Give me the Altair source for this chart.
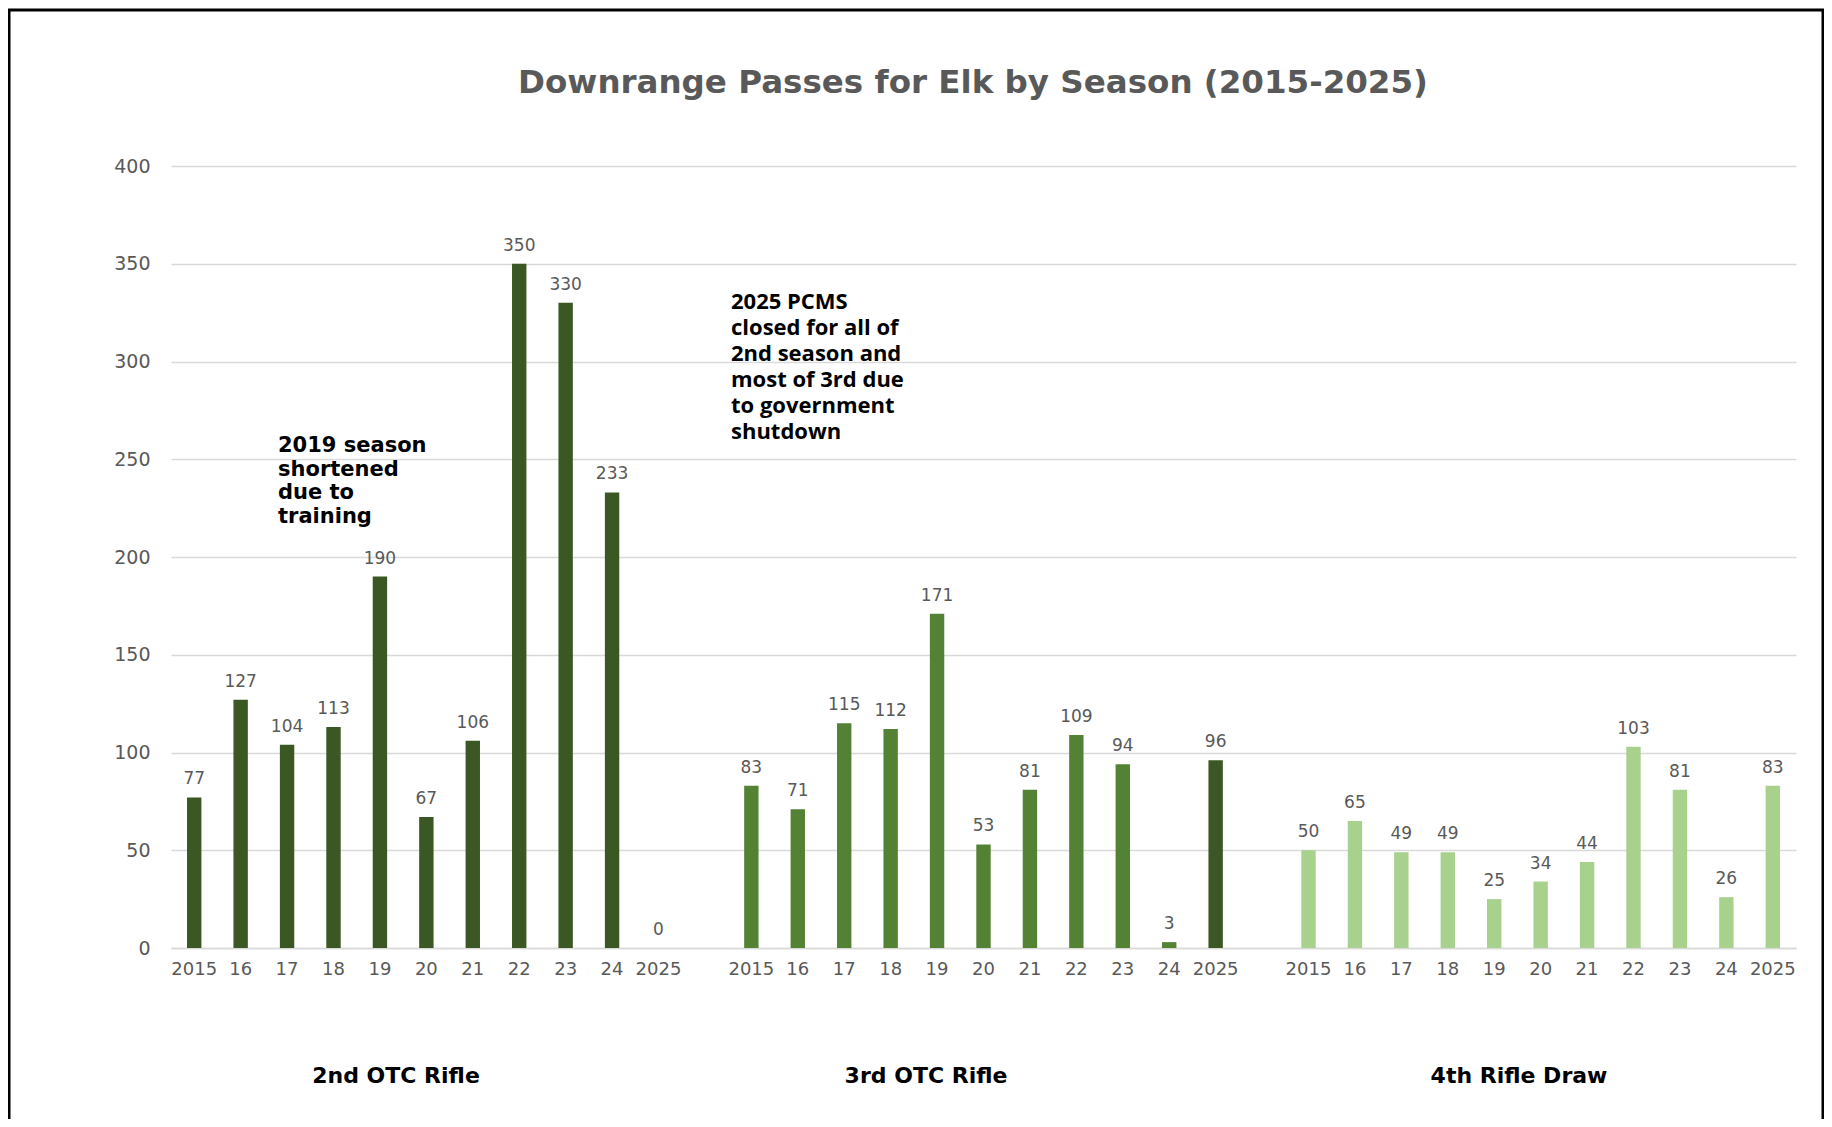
import altair as alt
import pandas as pd

# ---------------- data ----------------
groups = ["2nd OTC Rifle", "3rd OTC Rifle", "4th Rifle Draw"]
year_labels = ["2015", "16", "17", "18", "19", "20", "21", "22", "23", "24", "2025"]
values_2nd = [77, 127, 104, 113, 190, 67, 106, 350, 330, 233, 0]
values_3rd = [83, 71, 115, 112, 171, 53, 81, 109, 94, 3, 96]
values_4th = [50, 65, 49, 49, 25, 34, 44, 103, 81, 26, 83]

title_text = "Downrange Passes for Elk by Season (2015-2025)"
note_2019 = ["2019 season", "shortened", "due to", "training"]
note_2025 = ["2025 PCMS", "closed for all of", "2nd season and", "most of 3rd due",
             "to government", "shutdown"]

DARK = "#3B5723"
MID = "#548235"
LIGHT = "#A9D18E"
GREY = "#595959"

rows = []
domain = []
for gi, (g, vals) in enumerate(zip(groups, [values_2nd, values_3rd, values_4th])):
    if gi > 0:
        domain.append(f"gap{gi}")
    for y, v in zip(year_labels, vals):
        key = f"{gi + 1}|{y}"
        domain.append(key)
        rows.append({"group": g, "year": y, "key": key, "value": v})
df = pd.DataFrame(rows)

W, H = 1625, 782

x_enc = alt.X(
    "key:N",
    scale=alt.Scale(domain=domain, paddingInner=0.69, paddingOuter=0.345),
    axis=alt.Axis(
        title=None,
        labelAngle=0,
        labelExpr="indexof(datum.value, '|') >= 0 ? split(datum.value, '|')[1] : ''",
        labelFont="DejaVu Sans",
        labelFontSize=18,
        labelColor=GREY,
        labelPadding=12,
        labelOverlap=False,
        ticks=False,
        tickSize=0,
        domain=True,
        domainColor="#D9D9D9",
        domainWidth=1.5,
        grid=False,
    ),
)
y_enc = alt.Y(
    "value:Q",
    scale=alt.Scale(domain=[0, 400], nice=False),
    axis=alt.Axis(
        title=None,
        values=[0, 50, 100, 150, 200, 250, 300, 350, 400],
        labelFont="DejaVu Sans",
        labelFontSize=19,
        labelColor=GREY,
        labelPadding=21,
        ticks=False,
        tickSize=0,
        domain=False,
        grid=True,
        gridColor="#D9D9D9",
        gridWidth=1.5,
    ),
)

base = alt.Chart(df)

bars = base.mark_bar().encode(
    x=x_enc,
    y=y_enc,
    color=alt.condition(
        "datum.group == '3rd OTC Rifle' && datum.year == '2025'",
        alt.value(DARK),
        alt.Color("group:N", scale=alt.Scale(domain=groups, range=[DARK, MID, LIGHT]), legend=None),
    ),
)

labels = base.mark_text(
    font="DejaVu Sans", fontSize=17, color=GREY, baseline="bottom", dy=-9
).encode(x=alt.X("key:N"), y=alt.Y("value:Q"), text=alt.Text("value:Q"))

one = alt.Data(values=[{"a": 1}])

frame = alt.Chart(one).mark_rect(fill="transparent", stroke="black", strokeWidth=3).encode(
    x=alt.value(-162), x2=alt.value(1652), y=alt.value(-156), y2=alt.value(1000)
)

title = alt.Chart(one).mark_text(
    text=title_text, font="DejaVu Sans", fontWeight="bold", fontSize=32.5, color=GREY,
    align="center", baseline="middle",
).encode(x=alt.value(802), y=alt.value(-83))

ann1 = alt.Chart(one).mark_text(
    text=note_2019, font="DejaVu Sans", fontWeight="bold", fontSize=21, color="black",
    align="left", baseline="top", lineHeight=23.5,
).encode(x=alt.value(107), y=alt.value(269))

ann2 = alt.Chart(one).mark_text(
    text=note_2025, font="Open Sans", fontWeight="bold", fontSize=22, color="black",
    align="left", baseline="top", lineHeight=26,
).encode(x=alt.value(560), y=alt.value(126))

group_layers = []
for g, gx in zip(groups, [225, 755, 1348]):
    group_layers.append(
        alt.Chart(one).mark_text(
            text=g, font="DejaVu Sans", fontWeight="bold", fontSize=22, color="black",
            align="center", baseline="middle",
        ).encode(x=alt.value(gx), y=alt.value(910))
    )

chart = alt.layer(frame, bars, labels, title, ann1, ann2, *group_layers).properties(
    width=W,
    height=H,
    autosize=alt.AutoSizeParams(type="none"),
    padding={"left": 163, "top": 158, "right": 28, "bottom": 171},
    background="white",
).configure_view(stroke=None)

chart.save("out.html", embed_options={"renderer": "svg", "actions": False})
